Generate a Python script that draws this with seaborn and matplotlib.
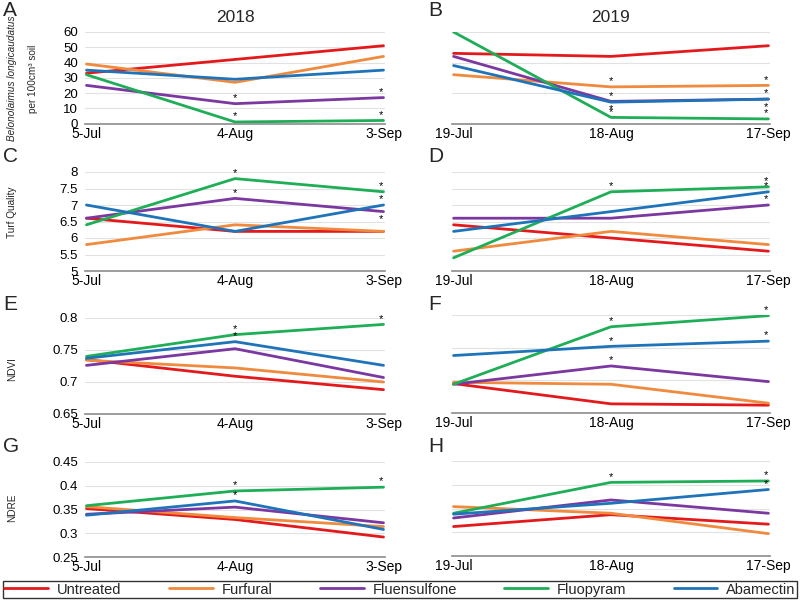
import matplotlib
matplotlib.use("Agg")
import matplotlib.pyplot as plt
import seaborn as sns
import pandas as pd
from matplotlib.lines import Line2D

sns.set_theme(style="white")
plt.rcParams['font.family'] = ['Liberation Sans', 'DejaVu Sans']

treatments = ["Untreated", "Furfural", "Fluensulfone", "Fluopyram", "Abamectin"]
colors = ["#e3191c", "#ef8a3e", "#7b38a0", "#1fae58", "#1f74b9"]
dates_2018 = ["5-Jul", "4-Aug", "3-Sep"]
dates_2019 = ["19-Jul", "18-Aug", "17-Sep"]

# rows follow the order of `treatments`
nem_2018 = [[33, 42, 51], [39, 27, 44], [25, 13, 17], [32, 1, 2], [35, 29, 35]]
nem_2019 = [[46, 44, 51], [32, 24, 25], [44, 14.5, 16], [60, 4, 3], [38, 14, 16]]
tq_2018 = [[6.6, 6.2, 6.2], [5.8, 6.4, 6.2], [6.6, 7.2, 6.8], [6.4, 7.8, 7.4], [7.0, 6.2, 7.0]]
tq_2019 = [[6.4, 6.0, 5.6], [5.6, 6.2, 5.8], [6.6, 6.6, 7.0], [5.4, 7.4, 7.55], [6.2, 6.8, 7.4]]
ndvi_2018 = [[0.735, 0.709, 0.688], [0.734, 0.722, 0.700], [0.726, 0.752, 0.707],
             [0.740, 0.774, 0.790], [0.737, 0.763, 0.726]]
ndvi_2019 = [[0.695, 0.664, 0.662], [0.697, 0.694, 0.665], [0.694, 0.722, 0.698],
             [0.694, 0.782, 0.799], [0.738, 0.752, 0.760]]
ndre_2018 = [[0.352, 0.329, 0.292], [0.356, 0.333, 0.314], [0.340, 0.355, 0.322],
             [0.358, 0.389, 0.397], [0.338, 0.368, 0.308]]
ndre_2019 = [[0.312, 0.337, 0.317], [0.354, 0.340, 0.297], [0.330, 0.368, 0.340],
             [0.340, 0.405, 0.408], [0.338, 0.361, 0.390]]

# significance stars: (treatment index, date index, direction)
stars_A = [(2, 1, 1), (3, 1, 1), (2, 2, 1), (3, 2, 1)]
stars_B = [(1, 1, 1), (4, 1, 1), (2, 1, -1), (3, 1, 1), (1, 2, 1), (4, 2, 1), (2, 2, -1), (3, 2, 1)]
stars_C = [(3, 1, 1), (2, 1, 1), (3, 2, 1), (4, 2, 1), (2, 2, -1)]
stars_D = [(3, 1, 1), (3, 2, 1), (4, 2, 1), (2, 2, 1)]
stars_E = [(3, 1, 1), (4, 1, 1), (3, 2, 1)]
stars_F = [(3, 1, 1), (4, 1, 1), (2, 1, 1), (3, 2, 1), (4, 2, 1)]
stars_G = [(3, 1, 1), (4, 1, 1), (3, 2, 1)]
stars_H = [(3, 1, 1), (3, 2, 1), (4, 2, 1)]

yt_nem = [0, 10, 20, 30, 40, 50, 60]
yt_nem_b = [0, 20, 40, 60]
yt_tq = [5, 5.5, 6, 6.5, 7, 7.5, 8]
yt_ndvi = [0.65, 0.7, 0.75, 0.8]
yt_ndre = [0.25, 0.3, 0.35, 0.4, 0.45]

fig = plt.figure(figsize=(8, 6), dpi=100)
W, H = 800, 600


def add_ax(x0, x1, top, bottom):
    return fig.add_axes([x0 / W, 1 - bottom / H, (x1 - x0) / W, (bottom - top) / H])


def panel(ax, data, dates, yticks, ylim, stars, show_labels):
    rows = []
    for t, vals in zip(treatments, data):
        for i, v in enumerate(vals):
            rows.append({"x": i, "value": v, "Treatment": t})
    df = pd.DataFrame(rows)
    sns.lineplot(data=df, x="x", y="value", hue="Treatment", hue_order=treatments,
                 palette=colors, ax=ax, legend=False, linewidth=2, sort=False)
    ax.set_xlim(-0.01, 2.01)
    ax.set_ylim(*ylim)
    ax.set_xticks([0, 1, 2])
    ax.set_xticklabels(dates, fontsize=10)
    ax.set_yticks(yticks)
    if show_labels:
        ax.set_yticklabels([f"{v:g}" for v in yticks], fontsize=9.5)
    else:
        ax.set_yticklabels([])
    ax.set_xlabel("")
    ax.set_ylabel("")
    ax.grid(axis="y", color="#e2e2e2", linewidth=0.8)
    ax.grid(axis="x", visible=False)
    for s in ["left", "top", "right"]:
        ax.spines[s].set_visible(False)
    ax.spines["bottom"].set_color("#8c8c8c")
    ax.spines["bottom"].set_linewidth(1.2)
    ax.tick_params(axis="both", length=0, colors="black")
    ax.tick_params(axis="y", pad=5)
    ax.tick_params(axis="x", pad=2.5)
    for ti, di, d in stars:
        y = data[ti][di]
        dx = -2 if di == 2 else 0
        ax.annotate("*", (di, y), xytext=(dx, 0.5 if d > 0 else -9),
                    textcoords="offset points", ha="center",
                    va="bottom", fontsize=8, color="black")
    ax.patch.set_alpha(0)


LX0, LX1 = 85, 385
RX0, RX1 = 452, 770

axA = add_ax(LX0, LX1, 32, 123.5)
axB = add_ax(RX0, RX1, 32, 123.5)
axC = add_ax(LX0, LX1, 172, 271)
axD = add_ax(RX0, RX1, 172, 271)
axE = add_ax(LX0, LX1, 318, 414)
axF = add_ax(RX0, RX1, 315, 413)
axG = add_ax(LX0, LX1, 462, 557)
axH = add_ax(RX0, RX1, 461, 556)

panel(axA, nem_2018, dates_2018, yt_nem, (0, 60), stars_A, True)
panel(axB, nem_2019, dates_2019, yt_nem_b, (0, 60), stars_B, False)
panel(axC, tq_2018, dates_2018, yt_tq, (5, 8), stars_C, True)
panel(axD, tq_2019, dates_2019, yt_tq, (5, 8), stars_D, False)
panel(axE, ndvi_2018, dates_2018, yt_ndvi, (0.65, 0.8), stars_E, True)
panel(axF, ndvi_2019, dates_2019, yt_ndvi, (0.65, 0.8), stars_F, False)
panel(axG, ndre_2018, dates_2018, yt_ndre, (0.25, 0.45), stars_G, True)
panel(axH, ndre_2019, dates_2019, yt_ndre, (0.25, 0.45), stars_H, False)

# panel letters
for letter, (px, py) in {"A": (3, 10), "B": (428, 11), "C": (3, 156), "D": (428, 157),
                         "E": (3, 304), "F": (428, 304), "G": (3, 446), "H": (428, 446)}.items():
    fig.text(px / W, 1 - py / H, letter, fontsize=15, ha="left", va="center")

fig.text(235 / W, 1 - 18 / H, "2018", fontsize=12.5, ha="center", va="center")
fig.text(611 / W, 1 - 18 / H, "2019", fontsize=12.5, ha="center", va="center")

lab = dict(rotation=90, fontsize=7.2, ha="center", va="center")
fig.text(12 / W, 1 - 78 / H, "Belonolaimus longicaudatus", style="italic", **lab)
fig.text(33 / W, 1 - 79 / H, "per 100cm³ soil", **lab)
fig.text(12 / W, 1 - 212 / H, "Turf Quality", **lab)
fig.text(12 / W, 1 - 369 / H, "NDVI", **lab)
fig.text(12 / W, 1 - 508 / H, "NDRE", **lab)

handles = [Line2D([0], [0], color=c, linewidth=2) for c in colors]
leg = fig.legend(handles, treatments, loc="lower left",
                 bbox_to_anchor=(3 / W, 2 / H, 794 / W, 16 / H), mode="expand",
                 ncol=5, fontsize=10.5, frameon=True, fancybox=False,
                 handlelength=3.0, borderpad=0.1, handletextpad=0.6,
                 borderaxespad=0)
leg.get_frame().set_edgecolor("black")
leg.get_frame().set_linewidth(1)

fig.savefig("out.png", dpi=100)
